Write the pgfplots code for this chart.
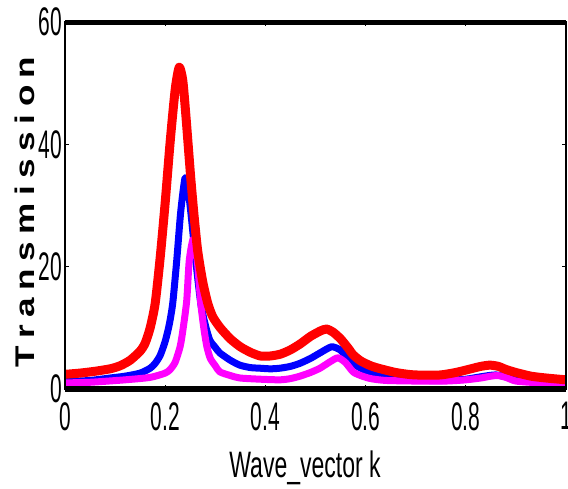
\documentclass[border=0pt]{standalone}
\usepackage{pgfplots}
\pgfplotsset{compat=1.18}
\usepackage{fontspec}
\setmainfont{Liberation Sans}
\usepackage{graphicx}
\newcommand{\TL}[1]{\scalebox{1}[1.9]{#1}}
\newcommand{\g}{\hspace{5.8pt}}
\definecolor{mred}{RGB}{255,0,0}
\definecolor{mblue}{RGB}{0,0,255}
\definecolor{mmag}{RGB}{255,0,255}
\begin{document}
\begin{tikzpicture}
\begin{axis}[
  name=ax,
  scale only axis, width=501pt, height=367pt,
  xmin=0, xmax=1, ymin=0, ymax=60,
  xtick={0,0.2,0.4,0.6,0.8,1},
  xticklabels={\TL{0},\TL{0.2},\TL{0.4},\TL{0.6},\TL{0.8},\TL{1}},
  ytick={0,20,40,60},
  yticklabels={\TL{0},\TL{20},\TL{40},\TL{60}},
  tick label style={font=\fontsize{21}{21}\selectfont, inner sep=0pt},
  xticklabel style={yshift=-13pt},
  yticklabel style={xshift=-3pt},
  tick align=inside, major tick length=4pt,
  tick style={black, line width=1.2pt},
  axis line style={line width=1.5pt},
  axis on top,
  every axis x label/.style={at={(axis description cs:0.479,-0.2425)}, anchor=base},
  every axis y label/.style={at={(axis description cs:-0.0808,0.482)}, anchor=center, rotate=90},
  xlabel={\fontsize{23}{23}\selectfont\scalebox{1}[1.6]{Wave\_vector k}},
  ylabel={\fontsize{27}{27}\selectfont\bfseries\scalebox{1.3}[1]{T\g r\g a\g n\g s\g m\g i\g s\g s\g i\g o\g n}},
  after end axis/.code={
    \draw[line width=6pt] (rel axis cs:0,0) -- (rel axis cs:1,0);
    \draw[line width=5pt] (rel axis cs:0,1) -- (rel axis cs:1,1);
  },
]
% blue
\addplot[mblue, line width=7pt, line join=round, line cap=round, smooth, tension=0.4] coordinates {
(0,1.2) (0.05,1.4) (0.09,1.8) (0.12,2.1) (0.15,2.6) (0.17,3.4) (0.18,4.2) (0.19,5.5)
(0.2,7.8) (0.208,10.5) (0.215,14) (0.223,21) (0.231,29) (0.2395,34.5) (0.245,33)
(0.251,29) (0.261,21) (0.271,14) (0.28,10.5) (0.289,8) (0.3,6.8) (0.309,5.9)
(0.33,4.7) (0.349,3.9) (0.37,3.5) (0.389,3.4) (0.41,3.3) (0.429,3.4) (0.45,3.7)
(0.469,4.2) (0.49,5) (0.509,5.9) (0.532,6.9) (0.549,6.4) (0.562,5.3) (0.575,4.2)
(0.59,3.4) (0.61,2.6) (0.64,2.0) (0.68,1.6) (0.72,1.4) (0.76,1.4) (0.8,1.6)
(0.83,2.0) (0.86,2.3) (0.89,1.8) (0.93,1.2) (1,0.9)
};
% magenta
\addplot[mmag, line width=7pt, line join=round, line cap=round, smooth, tension=0.4] coordinates {
(0,1.0) (0.05,1.1) (0.12,1.5) (0.17,1.9) (0.2,2.6) (0.21,3.2) (0.22,4.4) (0.23,7)
(0.236,10) (0.243,14.5) (0.248,21) (0.256,24.5) (0.264,21) (0.271,14) (0.277,10)
(0.283,7) (0.29,5) (0.3,3.8) (0.309,2.8) (0.33,2.2) (0.349,1.8) (0.39,1.6)
(0.429,1.5) (0.45,1.7) (0.469,2.1) (0.49,2.7) (0.509,3.4) (0.53,4.5) (0.545,5.1)
(0.56,4.3) (0.575,2.8) (0.59,2.2) (0.61,1.7) (0.64,1.4) (0.7,1.3) (0.76,1.3)
(0.8,1.5) (0.83,1.8) (0.85,2.1) (0.864,2.2) (0.88,1.9) (0.9,1.3) (0.94,1.05) (1,1.0)
};
% red
\addplot[mred, line width=9pt, line join=round, line cap=round, smooth, tension=0.4] coordinates {
(0,2.4) (0.03,2.6) (0.06,2.9) (0.09,3.3) (0.11,3.8) (0.13,4.7) (0.15,6.2) (0.16,7.5)
(0.17,10) (0.18,14) (0.19,21.5) (0.2,30.5) (0.21,40.5) (0.22,49) (0.228,52.6)
(0.235,50.5) (0.241,45) (0.251,34.5) (0.258,28) (0.265,22.5) (0.275,17.5) (0.285,14)
(0.295,11.8) (0.31,10) (0.33,8.2) (0.35,6.9) (0.37,6.0) (0.39,5.4) (0.41,5.4)
(0.43,5.7) (0.45,6.4) (0.47,7.4) (0.49,8.6) (0.51,9.5) (0.522,9.8) (0.535,9.3)
(0.55,8.2) (0.565,6.7) (0.575,5.6) (0.59,4.6) (0.61,3.8) (0.63,3.3) (0.66,2.7)
(0.69,2.35) (0.72,2.25) (0.75,2.3) (0.78,2.7) (0.81,3.3) (0.83,3.7) (0.848,3.9)
(0.865,3.7) (0.88,3.2) (0.9,2.7) (0.93,2.1) (0.96,1.8) (1,1.5)
};
\end{axis}
\pgfresetboundingbox
\path (ax.south west) ++(-65pt,-99pt) rectangle ++(568pt,488pt);
\end{tikzpicture}
\end{document}
